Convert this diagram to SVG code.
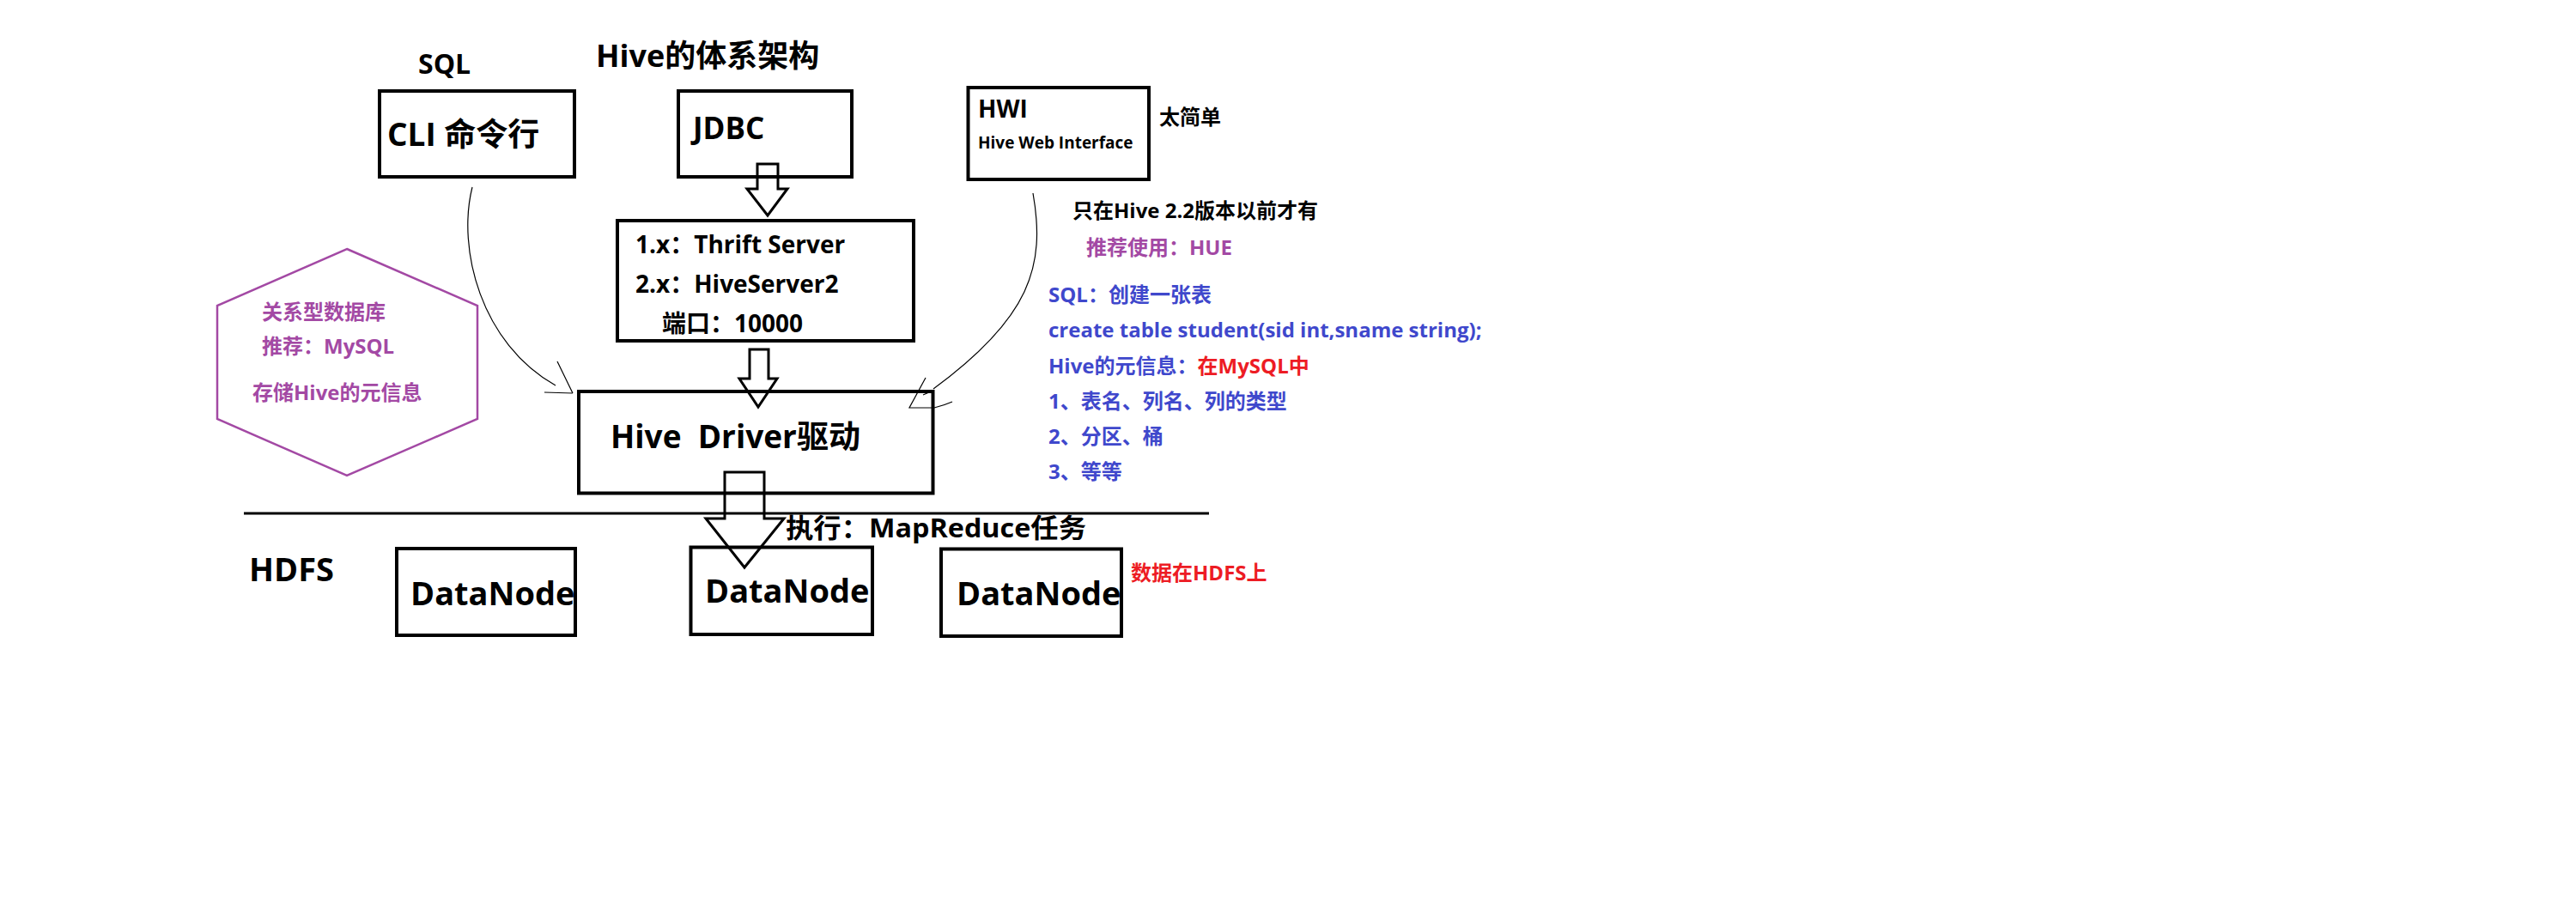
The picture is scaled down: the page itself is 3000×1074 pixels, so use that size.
<svg xmlns="http://www.w3.org/2000/svg" width="3000" height="1074" viewBox="0 0 3000 1074">
<style>
text{font-family:"Open Sans","Noto Sans CJK SC",sans-serif;font-weight:bold;fill:#000;white-space:pre}
.box{fill:none;stroke:#000;stroke-width:4}
.harrow{fill:none;stroke:#000;stroke-width:3;stroke-linejoin:miter}
.thin{fill:none;stroke:#000;stroke-width:1.2}
.blue{fill:#3F48CC}
.purple{fill:#A349A4}
.red{fill:#ED1C24}
.s24{font-size:24px}
</style>
<rect width="3000" height="1074" fill="#fff"/>

<g id="titles">
<text x="487" y="86" font-size="32">SQL</text>
<text x="694" y="78" font-size="36">Hive的体系架构</text>
</g>

<g id="cli">
<rect class="box" x="442" y="106" width="227" height="100"/>
<text x="451" y="170" font-size="37">CLI 命令行</text>
</g>

<g id="jdbc">
<rect class="box" x="790" y="106" width="202" height="100"/>
<text x="807" y="162" font-size="35">JDBC</text>
</g>

<g id="hwi">
<rect class="box" x="1127.5" y="102" width="210.5" height="107"/>
<text x="1139" y="137" font-size="28">HWI</text>
<text x="1139" y="173" font-size="19">Hive Web Interface</text>
</g>

<g id="thrift">
<rect class="box" x="719" y="257" width="345" height="140"/>
<text x="740" y="295" font-size="28">1.x：Thrift Server</text>
<text x="740" y="341" font-size="28">2.x：HiveServer2</text>
<text x="771" y="387" font-size="28">端口：10000</text>
</g>

<g id="mysql">
<polygon points="404,290 556,356 556,488 404,554 253,488 253,356" fill="none" stroke="#A349A4" stroke-width="2.5"/>
<text class="purple s24" x="305" y="372">关系型数据库</text>
<text class="purple s24" x="305" y="412">推荐：MySQL</text>
<text class="purple s24" x="294" y="466">存储Hive的元信息</text>
</g>

<g id="driver">
<rect class="box" x="674" y="456" width="412.5" height="118.5"/>
<text x="711" y="522" font-size="37">Hive  Driver驱动</text>
</g>

<g id="notes">
<text class="s24" x="1350" y="145">太简单</text>
<text class="s24" x="1249" y="254">只在Hive 2.2版本以前才有</text>
<text class="purple s24" x="1265" y="297">推荐使用：HUE</text>
<text class="blue s24" x="1221" y="352">SQL：创建一张表</text>
<text class="blue s24" x="1221" y="393">create table student(sid int,sname string);</text>
<text class="s24" x="1221" y="435"><tspan class="blue">Hive的元信息：</tspan><tspan class="red">在MySQL中</tspan></text>
<text class="blue s24" x="1221" y="476">1、表名、列名、列的类型</text>
<text class="blue s24" x="1221" y="517">2、分区、桶</text>
<text class="blue s24" x="1221" y="558">3、等等</text>
</g>

<g id="separator">
<line x1="284" y1="598" x2="1408" y2="598" stroke="#000" stroke-width="3"/>
</g>

<g id="hdfs">
<text x="290" y="677" font-size="38">HDFS</text>
<text x="915" y="626" font-size="31" textLength="350" lengthAdjust="spacingAndGlyphs">执行：MapReduce任务</text>
<text class="red s24" x="1317" y="676">数据在HDFS上</text>
</g>

<g id="datanode1">
<rect class="box" x="462" y="639" width="208" height="101"/>
<text x="478" y="705" font-size="38">DataNode</text>
</g>
<g id="datanode2">
<rect class="box" x="804.5" y="637.5" width="211.5" height="101.5"/>
<text x="821" y="702" font-size="38">DataNode</text>
</g>
<g id="datanode3">
<rect class="box" x="1096" y="639.5" width="210" height="101.5"/>
<text x="1114" y="705" font-size="38">DataNode</text>
</g>

<g id="connectors">
<polygon class="harrow" points="882,191 906,191 906,220 917,220 894,251 870,220 882,220"/>
<polygon class="harrow" points="873,407 895,407 895,441 905,441 883,474 861,441 873,441"/>
<polygon class="harrow" points="844,550 890,550 890,604 913,604 867,661 822,604 844,604"/>
<path class="thin" d="M550,218 C532,290 560,400 647,449"/>
<path class="thin" d="M649,421 L667,458 M634,457 L667,458"/>
<path class="thin" d="M1203,225 C1218,310 1200,370 1087,453"/>
<path class="thin" d="M1078,440 L1059,475 L1088,475 Q1100,472 1109,468 M1075,460 L1082,457"/>
</g>
</svg>
